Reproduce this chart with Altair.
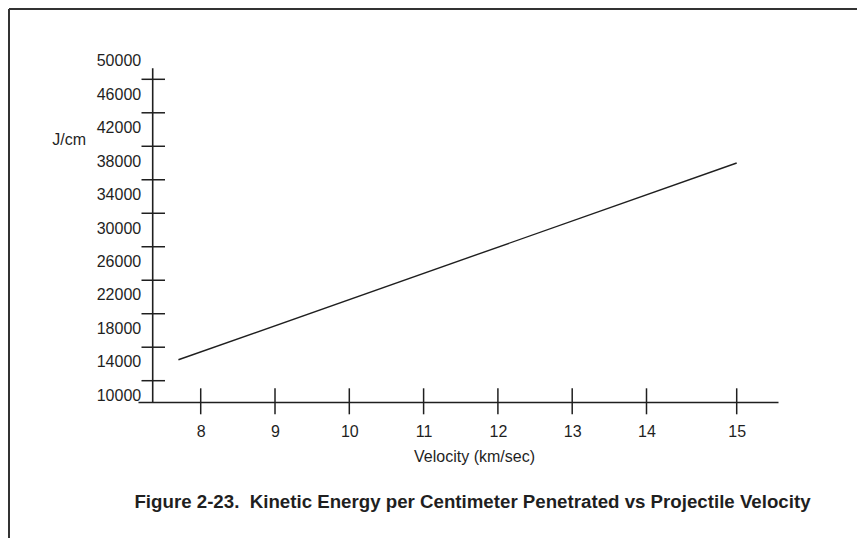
import altair as alt
import pandas as pd

# ---- data ----
velocity = [7.7, 15.0]            # km/sec
energy = [14500, 38000]           # J/cm
x_tick_values = [8, 9, 10, 11, 12, 13, 14, 15]
y_label_values = [10000, 14000, 18000, 22000, 26000, 30000, 34000, 38000, 42000, 46000, 50000]
y_tick_values = [12000, 16000, 20000, 24000, 28000, 32000, 36000, 40000, 44000, 48000]
title_text = "Figure 2-23.\u00a0 Kinetic Energy per Centimeter Penetrated vs Projectile Velocity"

line_df = pd.DataFrame({"v": velocity, "e": energy})
xt_df = pd.DataFrame({"v": x_tick_values})
yt_df = pd.DataFrame({"e": y_tick_values})
one = pd.DataFrame({"a": [0]})

W, H = 640, 346
INK = "#1f1f1f"
FONT = "Liberation Sans"
Y_AXIS_X = 14.7

xscale = alt.Scale(domain=[7.156, 14, 15, 15.556], range=[0, 508.5, 598.7, 640],
                   nice=False, zero=False)
yscale = alt.Scale(domain=[9456, 50783], nice=False, zero=False)

xaxis = alt.Axis(
    values=x_tick_values, ticks=False, tickSize=0, grid=False,
    domainColor=INK, domainWidth=1.6, labelPadding=21,
    labelFontSize=16, labelFont=FONT, labelColor=INK, labelFlush=False,
    title="Velocity (km/sec)", titleFont=FONT, titleFontSize=16,
    titleFontWeight="normal", titleColor=INK, titleX=336, titleY=54,
    titleAlign="center", titleBaseline="middle")
yaxis = alt.Axis(
    values=y_label_values, format="d", ticks=False, tickSize=0, grid=False,
    offset=-Y_AXIS_X, domain=False, labelPadding=12, labelOffset=-2,
    labelFontSize=16, labelFont=FONT, labelColor=INK, labelFlush=False,
    title="J/cm", titleFont=FONT, titleFontSize=16, titleFontWeight="normal",
    titleColor=INK, titleAngle=0, titleX=-84, titleY=83,
    titleAlign="center", titleBaseline="middle")

line = alt.Chart(line_df).mark_line(color=INK, strokeWidth=1.4).encode(
    x=alt.X("v:Q", scale=xscale, axis=xaxis),
    y=alt.Y("e:Q", scale=yscale, axis=yaxis),
)

xticks = alt.Chart(xt_df).mark_rule(color=INK, strokeWidth=1.5).encode(
    x=alt.X("v:Q", scale=xscale, axis=xaxis),
    y=alt.value(332.3), y2=alt.value(358.3),
)

yticks = alt.Chart(yt_df).mark_rule(color=INK, strokeWidth=1.5).encode(
    y=alt.Y("e:Q", scale=yscale, axis=yaxis),
    x=alt.value(3.5), x2=alt.value(27),
)

# vertical axis line (from the top of the drawn axis down to the x axis)
yline = alt.Chart(one).mark_rule(color=INK, strokeWidth=1.6).encode(
    x=alt.value(Y_AXIS_X), y=alt.value(12.3), y2=alt.value(H))

title = alt.Chart(one).mark_text(
    text=title_text, font=FONT, fontSize=18.7, fontWeight="bold", color=INK,
    align="center", baseline="middle",
).encode(x=alt.value(334.5), y=alt.value(445.5))

frame_left = alt.Chart(one).mark_rule(color="#333333", strokeWidth=2).encode(
    x=alt.value(-129), y=alt.value(-47), y2=alt.value(482))
frame_top = alt.Chart(one).mark_rule(color="#333333", strokeWidth=2).encode(
    x=alt.value(-129), x2=alt.value(719), y=alt.value(-47))

chart = alt.layer(line, xticks, yticks, yline, title, frame_left, frame_top).properties(
    width=W, height=H,
    autosize=alt.AutoSizeParams(type="none"),
    padding={"left": 130, "top": 48, "right": 79, "bottom": 136},
    background="white",
).configure_view(stroke=None)

chart.save("out.html", embed_options={"renderer": "svg", "actions": False})
